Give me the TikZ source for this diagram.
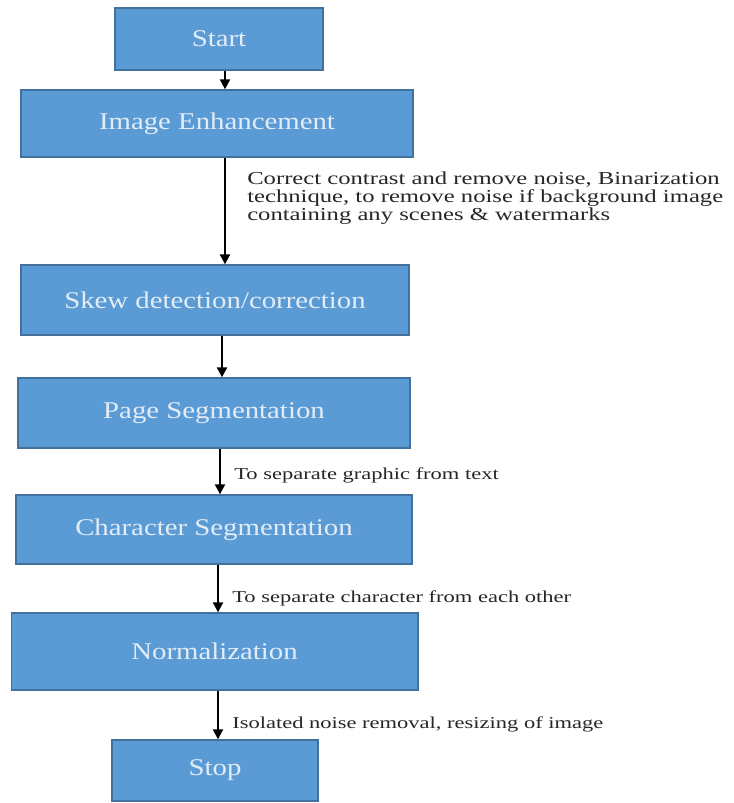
\documentclass[tikz,border=0pt]{standalone}
\usepackage{fontspec}
\setmainfont{Liberation Serif}
\newfontfamily\boxfont[FakeStretch=1.2]{Liberation Serif}
\newfontfamily\notefont[FakeStretch=1.35]{Liberation Serif}
\usetikzlibrary{positioning, arrows.meta, calc}
\definecolor{cB}{RGB}{91,155,213}
\definecolor{cE}{RGB}{65,113,156}
\definecolor{cT}{RGB}{226,236,246}

\begin{document}
\begin{tikzpicture}[x=0.75pt, y=-0.75pt,
    stage/.style={draw=cE, fill=cB, line width=1pt, inner sep=0pt, text=cT,
                  font=\boxfont\fontsize{18}{20}\selectfont},
    note/.style={inner sep=0pt, text=black!85, align=left},
    flow/.style={-{Triangle[width=7.5pt, length=7.5pt]}, line width=1.6pt, black}]

    \useasboundingbox (0,0) rectangle (733,803);

    % Node Placements
    \node[stage, minimum width=156pt, minimum height=46.5pt]  (start) at (219,39)    {Start};
    \node[stage, minimum width=294pt, minimum height=50.25pt] (enh)   at (217,123.5) {Image Enhancement};
    \node[stage, minimum width=291pt, minimum height=52.5pt]  (skew)  at (215,300)   {Skew detection/correction};
    \node[stage, minimum width=294pt, minimum height=52.5pt]  (page)  at (214,413)   {Page Segmentation};
    \node[stage, minimum width=297pt, minimum height=51.75pt] (chr)   at (214,529.5) {Character Segmentation};
    \node[stage, minimum width=305pt, minimum height=57.75pt] (norm)  at (214.5,651.5) {Normalization};
    \node[stage, minimum width=154.5pt, minimum height=45.75pt] (stop) at (215,770.5) {Stop};

    % Notes
    \node[note, anchor=north west, font=\notefont\fontsize{13.7}{13.5}\selectfont] (nEnh) at (247,172)
        {Correct contrast and remove noise, Binarization\\technique, to remove noise if background image\\containing any scenes \& watermarks};
    \node[note, anchor=base west, font=\notefont\fontsize{12.5}{14}\selectfont] (nPage) at (234,479) {To separate graphic from text};
    \node[note, anchor=base west, font=\notefont\fontsize{12.5}{14}\selectfont] (nChr)  at (232,602) {To separate character from each other};
    \node[note, anchor=base west, font=\notefont\fontsize{12.5}{14}\selectfont] (nNorm) at (232,728) {Isolated noise removal, resizing of image};

    % Arrows
    \draw[flow] ([xshift=4.5pt]start.south) -- ([xshift=4.5pt]start.south |- enh.north);
    \draw[flow] ([xshift=6pt]enh.south)     -- ([xshift=6pt]enh.south |- skew.north);
    \draw[flow] ([xshift=5.25pt]skew.south) -- ([xshift=5.25pt]skew.south |- page.north);
    \draw[flow] ([xshift=4.5pt]page.south)  -- ([xshift=4.5pt]page.south |- chr.north);
    \draw[flow] ([xshift=3pt]chr.south)     -- ([xshift=3pt]chr.south |- norm.north);
    \draw[flow] ([xshift=2.6pt]norm.south)  -- ([xshift=2.6pt]norm.south |- stop.north);
\end{tikzpicture}
\end{document}
